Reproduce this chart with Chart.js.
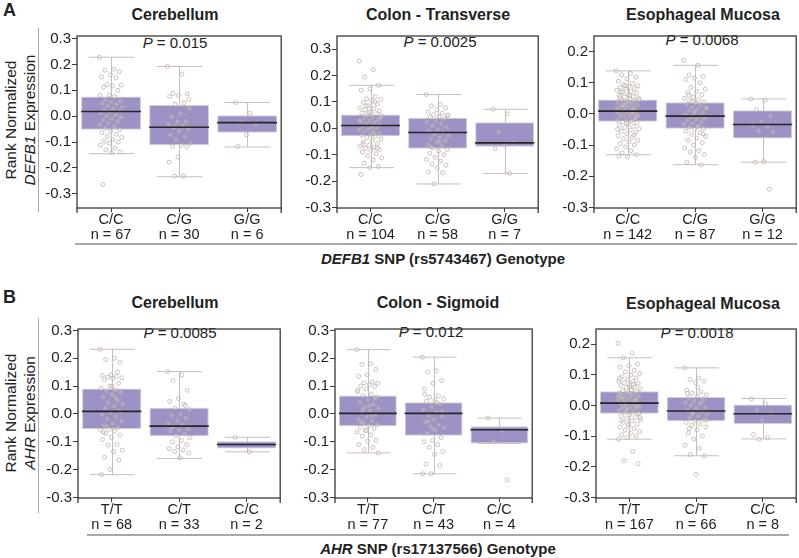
<!DOCTYPE html>
<html>
<head>
<meta charset="utf-8">
<script src="https://cdn.jsdelivr.net/npm/chart.js@4.4.0/dist/chart.umd.min.js"></script>
<style>
body { margin: 0; background: #fff; }
#fig { position: relative; width: 799px; height: 558px; font-family: "Liberation Sans", Arial, sans-serif; color: #222; overflow: hidden; background: #fff; }
.t { position: absolute; transform: translate(-50%, -50%); white-space: nowrap; }
.title { font-weight: bold; font-size: 16px; }
.pval { font-size: 15px; }
.ylab { font-size: 15.5px; transform: translate(-50%, -50%) rotate(-90deg); }
.xlab { font-weight: bold; font-size: 15px; }
.letter { position: absolute; font-weight: bold; font-size: 18px; }
.rule { position: absolute; background: #a8a8a8; }
canvas { position: absolute; }
</style>
</head>
<body>
<div id="fig">
  <div class="letter" style="left:3px;top:0px;">A</div>
  <div class="letter" style="left:3px;top:287px;">B</div>

  <div class="t title" style="left:175px;top:15px;">Cerebellum</div>
  <div class="t title" style="left:438px;top:15px;">Colon - Transverse</div>
  <div class="t title" style="left:703px;top:15px;">Esophageal Mucosa</div>
  <div class="t title" style="left:175px;top:303px;">Cerebellum</div>
  <div class="t title" style="left:438px;top:303px;">Colon - Sigmoid</div>
  <div class="t title" style="left:703px;top:304px;">Esophageal Mucosa</div>

  <div class="t pval" style="left:175px;top:42px;"><i>P</i> = 0.015</div>
  <div class="t pval" style="left:440px;top:41px;"><i>P</i> = 0.0025</div>
  <div class="t pval" style="left:702px;top:39px;"><i>P</i> = 0.0068</div>
  <div class="t pval" style="left:180px;top:332px;"><i>P</i> = 0.0085</div>
  <div class="t pval" style="left:431px;top:331px;"><i>P</i> = 0.012</div>
  <div class="t pval" style="left:697px;top:332px;"><i>P</i> = 0.0018</div>

  <div class="t ylab" style="left:11px;top:120px;">Rank Normalized</div>
  <div class="t ylab" style="left:30px;top:120px;"><i>DEFB1</i> Expression</div>
  <div class="t ylab" style="left:11px;top:413px;">Rank Normalized</div>
  <div class="t ylab" style="left:30px;top:413px;"><i>AHR</i> Expression</div>

  <div class="rule" style="left:38px;top:28px;width:1px;height:184px;"></div>
  <div class="rule" style="left:38px;top:318px;width:1px;height:195px;"></div>
  <div class="rule" style="left:75px;top:243px;width:722px;height:2px;"></div>
  <div class="rule" style="left:87px;top:534px;width:702px;height:2px;"></div>

  <div class="t xlab" style="left:443px;top:258px;"><i>DEFB1</i> SNP (rs5743467) Genotype</div>
  <div class="t xlab" style="left:438px;top:548px;"><i>AHR</i> SNP (rs17137566) Genotype</div>
</div>

<script>
// genotypes and group sizes
const genoA = ['C/C', 'C/G', 'G/G'];
const genoB = ['T/T', 'C/T', 'C/C'];
const nA1 = [67, 30, 6];
const nA2 = [104, 58, 7];
const nA3 = [142, 87, 12];
const nB1 = [68, 33, 2];
const nB2 = [77, 43, 4];
const nB3 = [167, 66, 8];

// y tick labels
const ticks6 = [-0.3, -0.2, -0.1, 0.0, 0.1, 0.2, 0.3];
const ticks5 = [-0.3, -0.2, -0.1, 0.0, 0.1, 0.2];

// box stats: whisker low, q1, median, q3, whisker high
const a1Lo = [-0.145, -0.234, -0.119], a1Q1 = [-0.052, -0.112, -0.064], a1Med = [0.018, -0.043, -0.025], a1Q3 = [0.076, 0.043, 0.004], a1Hi = [0.228, 0.192, 0.053];
const a2Lo = [-0.149, -0.211, -0.171], a2Q1 = [-0.030, -0.077, -0.070], a2Med = [0.011, -0.016, -0.055], a2Q3 = [0.052, 0.040, 0.023], a2Hi = [0.163, 0.128, 0.072];
const a3Lo = [-0.131, -0.163, -0.155], a3Q1 = [-0.025, -0.048, -0.079], a3Med = [0.009, -0.007, -0.034], a3Q3 = [0.046, 0.037, 0.012], a3Hi = [0.138, 0.156, 0.048];
const b1Lo = [-0.218, -0.160, -0.136], b1Q1 = [-0.054, -0.080, -0.124], b1Med = [0.009, -0.044, -0.110], b1Q3 = [0.091, 0.022, -0.098], b1Hi = [0.232, 0.152, -0.084];
const b2Lo = [-0.140, -0.215, -0.106], b2Q1 = [-0.044, -0.078, -0.106], b2Med = [0.002, 0.002, -0.057], b2Q3 = [0.066, 0.042, -0.044], b2Hi = [0.231, 0.204, -0.015];
const b3Lo = [-0.110, -0.164, -0.109], b3Q1 = [-0.027, -0.051, -0.060], b3Med = [0.008, -0.018, -0.027], b3Q3 = [0.047, 0.028, 0.003], b3Hi = [0.156, 0.123, 0.023];

// individual samples (approximate)
const a1Pts = [
  [0.228, 0.182, 0.178, 0.172, 0.160, 0.152, 0.148, 0.122, 0.120, 0.117, 0.112, 0.100, 0.082, 0.080, 0.076, 0.062, 0.058, 0.055, 0.050, 0.046, 0.040, 0.034, 0.030, 0.024, 0.020, 0.015, 0.010, 0.005, 0.000, -0.004, -0.010, -0.015, -0.020, -0.026, -0.032, -0.040, -0.046, -0.052, -0.058, -0.064, -0.070, -0.078, -0.082, -0.090, -0.096, -0.100, -0.104, -0.112, -0.124, -0.130, -0.138, -0.142, -0.264],
  [0.192, 0.162, 0.088, 0.086, 0.080, 0.076, 0.052, 0.046, 0.030, 0.010, -0.002, -0.020, -0.022, -0.030, -0.036, -0.044, -0.050, -0.058, -0.072, -0.080, -0.090, -0.104, -0.112, -0.116, -0.118, -0.158, -0.178, -0.232, -0.232, 0.064],
  [0.053, 0.012, -0.022, -0.032, -0.072, -0.117]
];
const a2Pts = [
  [0.255, 0.222, 0.195, 0.163, 0.150, 0.145, 0.120, 0.112, 0.110, 0.105, 0.098, 0.092, 0.085, 0.078, 0.075, 0.070, 0.066, 0.062, 0.058, 0.055, 0.050, 0.046, 0.042, 0.038, 0.034, 0.030, 0.026, 0.022, 0.018, 0.014, 0.010, 0.006, 0.002, -0.002, -0.006, -0.010, -0.014, -0.018, -0.022, -0.026, -0.030, -0.035, -0.040, -0.046, -0.052, -0.058, -0.064, -0.068, -0.072, -0.076, -0.080, -0.084, -0.090, -0.096, -0.104, -0.112, -0.120, -0.132, -0.145, -0.149, -0.175, 0.100, 0.085, 0.040, 0.005, -0.060, -0.075, 0.060, 0.030, -0.020],
  [0.128, 0.090, 0.085, 0.078, 0.070, 0.062, 0.058, 0.052, 0.048, 0.045, 0.042, 0.036, 0.030, 0.024, 0.018, 0.010, 0.004, -0.004, -0.010, -0.016, -0.022, -0.028, -0.034, -0.040, -0.046, -0.052, -0.060, -0.066, -0.074, -0.080, -0.086, -0.094, -0.100, -0.110, -0.118, -0.125, -0.135, -0.140, -0.150, -0.165, -0.168, -0.211, 0.050, -0.050, -0.070],
  [0.072, 0.055, -0.012, -0.055, -0.062, -0.077, -0.171]
];
const a3Pts = [
  [0.138, 0.130, 0.125, 0.118, 0.112, 0.105, 0.098, 0.094, 0.090, 0.088, 0.085, 0.082, 0.080, 0.076, 0.072, 0.070, 0.066, 0.062, 0.060, 0.056, 0.054, 0.050, 0.048, 0.045, 0.042, 0.040, 0.036, 0.034, 0.030, 0.028, 0.025, 0.022, 0.020, 0.018, 0.015, 0.012, 0.010, 0.008, 0.005, 0.002, 0.000, -0.002, -0.005, -0.008, -0.010, -0.013, -0.016, -0.020, -0.022, -0.025, -0.028, -0.032, -0.036, -0.040, -0.044, -0.048, -0.052, -0.056, -0.060, -0.064, -0.070, -0.075, -0.080, -0.085, -0.090, -0.096, -0.100, -0.106, -0.112, -0.118, -0.125, -0.131, -0.138, -0.135, 0.015, 0.030, 0.045, 0.060, 0.070, -0.015, -0.030, -0.050, 0.005, 0.025, -0.005, 0.038, 0.052, -0.068, 0.090, 0.008],
  [0.172, 0.156, 0.125, 0.120, 0.115, 0.110, 0.100, 0.085, 0.080, 0.072, 0.068, 0.062, 0.055, 0.050, 0.046, 0.042, 0.038, 0.035, 0.030, 0.026, 0.022, 0.018, 0.014, 0.010, 0.006, 0.002, -0.002, -0.006, -0.010, -0.014, -0.018, -0.022, -0.026, -0.030, -0.034, -0.038, -0.042, -0.046, -0.050, -0.055, -0.060, -0.066, -0.072, -0.078, -0.085, -0.092, -0.100, -0.110, -0.118, -0.122, -0.130, -0.140, -0.155, -0.163, 0.040, 0.020, -0.040, 0.060, -0.064, 0.008],
  [0.048, 0.045, 0.014, -0.008, -0.025, -0.035, -0.042, -0.055, -0.058, -0.153, -0.155, -0.242]
];
const b1Pts = [
  [0.232, 0.200, 0.195, 0.185, 0.140, 0.138, 0.135, 0.132, 0.130, 0.128, 0.122, 0.110, 0.100, 0.092, 0.085, 0.082, 0.078, 0.070, 0.060, 0.050, 0.040, 0.035, 0.028, 0.020, 0.012, 0.005, -0.002, -0.010, -0.018, -0.026, -0.034, -0.040, -0.048, -0.055, -0.058, -0.062, -0.070, -0.076, -0.085, -0.092, -0.110, -0.112, -0.130, -0.135, -0.155, -0.165, -0.200, -0.218, 0.060, -0.045, 0.008, 0.100, -0.065, 0.150],
  [0.152, 0.140, 0.120, 0.085, 0.055, 0.045, 0.035, 0.020, 0.015, 0.000, -0.005, -0.015, -0.025, -0.035, -0.040, -0.045, -0.055, -0.058, -0.062, -0.070, -0.078, -0.085, -0.095, -0.100, -0.110, -0.118, -0.125, -0.130, -0.135, -0.140, -0.158, -0.050, 0.030],
  [-0.084, -0.136]
];
const b2Pts = [
  [0.231, 0.180, 0.178, 0.160, 0.140, 0.135, 0.115, 0.112, 0.110, 0.105, 0.100, 0.098, 0.090, 0.080, 0.070, 0.065, 0.060, 0.050, 0.042, 0.035, 0.025, 0.020, 0.012, 0.005, -0.002, -0.010, -0.018, -0.025, -0.032, -0.038, -0.042, -0.048, -0.052, -0.058, -0.065, -0.075, -0.080, -0.095, -0.098, -0.110, -0.120, -0.128, -0.140, 0.030, -0.030, 0.055, -0.060, 0.085, -0.005, 0.015],
  [0.204, 0.155, 0.150, 0.120, 0.110, 0.090, 0.065, 0.060, 0.055, 0.050, 0.045, 0.035, 0.025, 0.015, 0.005, -0.005, -0.010, -0.020, -0.030, -0.040, -0.045, -0.050, -0.060, -0.070, -0.085, -0.095, -0.100, -0.110, -0.120, -0.135, -0.145, -0.180, -0.185, -0.215, -0.215, 0.040, -0.025, 0.010, -0.055, 0.070],
  [-0.015, -0.060, -0.100, -0.237]
];
const b3Pts = [
  [0.203, 0.170, 0.156, 0.135, 0.130, 0.125, 0.115, 0.110, 0.105, 0.100, 0.095, 0.090, 0.085, 0.080, 0.078, 0.075, 0.072, 0.068, 0.065, 0.062, 0.058, 0.055, 0.052, 0.048, 0.045, 0.042, 0.040, 0.036, 0.034, 0.030, 0.028, 0.025, 0.022, 0.020, 0.018, 0.015, 0.012, 0.010, 0.008, 0.005, 0.002, 0.000, -0.002, -0.005, -0.008, -0.010, -0.013, -0.016, -0.020, -0.023, -0.026, -0.030, -0.034, -0.038, -0.042, -0.046, -0.050, -0.055, -0.060, -0.065, -0.070, -0.075, -0.080, -0.085, -0.090, -0.095, -0.100, -0.105, -0.110, -0.150, -0.180, -0.190, 0.060, 0.035, 0.015, -0.015, -0.040, 0.050, 0.025, -0.003, -0.060, 0.088, 0.070, 0.005, -0.025, 0.040, -0.050, 0.020, -0.008, 0.030],
  [0.123, 0.090, 0.085, 0.080, 0.075, 0.050, 0.045, 0.040, 0.035, 0.030, 0.025, 0.020, 0.015, 0.010, 0.005, 0.000, -0.005, -0.010, -0.015, -0.020, -0.025, -0.030, -0.035, -0.040, -0.045, -0.050, -0.055, -0.060, -0.065, -0.070, -0.080, -0.090, -0.100, -0.110, -0.130, -0.140, -0.160, -0.164, -0.225, 0.040, 0.010, -0.028, -0.048, 0.060, -0.075],
  [0.022, 0.005, -0.015, -0.028, -0.050, -0.095, -0.105, -0.110]
];

// panel layout (frame edges in page pixels) + which arrays to use
const panels = [
  { L: 77, R: 282, T: 29, B: 208, ymin: -0.355, ymax: 0.31, yt: ticks6, geno: genoA, n: nA1, lo: a1Lo, q1: a1Q1, med: a1Med, q3: a1Q3, hi: a1Hi, pts: a1Pts },
  { L: 337, R: 539, T: 29, B: 208, ymin: -0.302, ymax: 0.35, yt: ticks6, geno: genoA, n: nA2, lo: a2Lo, q1: a2Q1, med: a2Med, q3: a2Q3, hi: a2Hi, pts: a2Pts },
  { L: 594, R: 797, T: 29, B: 208, ymin: -0.302, ymax: 0.25, yt: ticks5, geno: genoA, n: nA3, lo: a3Lo, q1: a3Q1, med: a3Med, q3: a3Q3, hi: a3Hi, pts: a3Pts },
  { L: 78, R: 281, T: 322, B: 498, ymin: -0.302, ymax: 0.305, yt: ticks6, geno: genoB, n: nB1, lo: b1Lo, q1: b1Q1, med: b1Med, q3: b1Q3, hi: b1Hi, pts: b1Pts },
  { L: 335, R: 533, T: 322, B: 498, ymin: -0.302, ymax: 0.305, yt: ticks6, geno: genoB, n: nB2, lo: b2Lo, q1: b2Q1, med: b2Med, q3: b2Q3, hi: b2Hi, pts: b2Pts },
  { L: 596, R: 797, T: 322, B: 498, ymin: -0.302, ymax: 0.25, yt: ticks5, geno: genoB, n: nB3, lo: b3Lo, q1: b3Q1, med: b3Med, q3: b3Q3, hi: b3Hi, pts: b3Pts }
];

const FONT = '"Liberation Sans", Arial, sans-serif';
const PAD_L = 45, PAD_T = 3, PAD_R = 4, PAD_B = 38;

// whiskers behind, medians and frame on top
function boxParts(p) {
  return {
    id: 'boxParts',
    beforeDatasetsDraw(chart) {
      const ctx = chart.ctx, xs = chart.scales.x, ys = chart.scales.y;
      const bars = chart.getDatasetMeta(1).data;
      ctx.save();
      ctx.strokeStyle = '#cbbdb9';
      ctx.lineWidth = 1;
      p.lo.forEach((lo, i) => {
        const x = Math.round(xs.getPixelForValue(i)) + 0.5;
        const cap = bars[i].width * 0.38;
        const yl = ys.getPixelForValue(lo), yh = ys.getPixelForValue(p.hi[i]);
        ctx.beginPath();
        ctx.moveTo(x, yl); ctx.lineTo(x, yh);
        ctx.moveTo(x - cap, yl); ctx.lineTo(x + cap, yl);
        ctx.moveTo(x - cap, yh); ctx.lineTo(x + cap, yh);
        ctx.stroke();
      });
      ctx.restore();
    },
    afterDatasetsDraw(chart) {
      const ctx = chart.ctx, xs = chart.scales.x, ys = chart.scales.y, a = chart.chartArea;
      const bars = chart.getDatasetMeta(1).data;
      ctx.save();
      ctx.strokeStyle = '#262626';
      ctx.lineWidth = 1.6;
      p.med.forEach((m, i) => {
        const x = xs.getPixelForValue(i), w = bars[i].width / 2;
        const y = ys.getPixelForValue(m);
        ctx.beginPath();
        ctx.moveTo(x - w, y); ctx.lineTo(x + w, y);
        ctx.stroke();
      });
      ctx.strokeStyle = '#3a3a3a';
      ctx.lineWidth = 1.3;
      ctx.strokeRect(a.left, a.top, a.right - a.left, a.bottom - a.top);
      ctx.beginPath();
      ctx.moveTo(a.left, a.bottom); ctx.lineTo(a.left, a.bottom + 5);
      ctx.moveTo(a.right, a.bottom); ctx.lineTo(a.right, a.bottom + 5);
      ctx.stroke();
      ctx.restore();
    }
  };
}

const fig = document.getElementById('fig');

panels.forEach(p => {
  const cv = document.createElement('canvas');
  const w = p.R - p.L + PAD_L + PAD_R, h = p.B - p.T + PAD_T + PAD_B;
  cv.width = w; cv.height = h;
  cv.style.left = (p.L - PAD_L) + 'px';
  cv.style.top = (p.T - PAD_T) + 'px';
  cv.style.width = w + 'px'; cv.style.height = h + 'px';
  fig.appendChild(cv);

  // jittered sample points, spread sideways around each category centre
  const pts = [];
  p.pts.forEach((vals, g) => {
    vals.forEach((v, j) => {
      pts.push({ x: g + ((j * 0.6180339) % 1 - 0.5) * 0.34, y: v });
    });
  });

  new Chart(cv, {
    type: 'bar',
    data: {
      labels: p.geno.map((g, i) => [g, 'n = ' + p.n[i]]),
      datasets: [
        {
          type: 'scatter',
          data: pts,
          xAxisID: 'xj',
          order: 0,
          pointRadius: 2,
          pointBorderWidth: 0.8,
          pointBorderColor: 'rgba(180,166,160,0.85)',
          pointBackgroundColor: 'rgba(255,255,255,0.2)'
        },
        {
          type: 'bar',
          data: p.q1.map((v, i) => [v, p.q3[i]]),
          order: 1,
          grouped: false,
          backgroundColor: '#9d91c5',
          borderColor: '#d8ced3',
          borderWidth: 1,
          borderSkipped: false,
          barPercentage: 0.88,
          categoryPercentage: 1
        }
      ]
    },
    options: {
      responsive: false,
      devicePixelRatio: 1,
      animation: false,
      events: [],
      layout: { padding: { left: 0, top: PAD_T, right: PAD_R, bottom: 0 } },
      plugins: { legend: { display: false }, tooltip: { enabled: false } },
      scales: {
        x: {
          type: 'category',
          offset: true,
          grid: { offset: false, drawOnChartArea: false, tickLength: 4, color: '#3a3a3a' },
          border: { display: false },
          ticks: { font: { family: FONT, size: 14.5, lineHeight: 1.0 }, color: '#222', padding: 1, maxRotation: 0, autoSkip: false },
          afterFit: s => { s.height = PAD_B; }
        },
        // hidden helper axis so the jittered points can sit between category centres
        xj: { type: 'linear', display: false, offset: false, min: -0.5, max: 2.5 },
        y: {
          min: p.ymin,
          max: p.ymax,
          grid: { drawOnChartArea: false, tickLength: 5, color: '#3a3a3a' },
          border: { display: false },
          ticks: {
            font: { family: FONT, size: 15 },
            color: '#222',
            padding: 1,
            callback: v => (Math.round(v * 10) / 10).toFixed(1)
          },
          afterBuildTicks: s => { s.ticks = p.yt.map(v => ({ value: v })); },
          afterFit: s => { s.width = PAD_L; }
        }
      }
    },
    plugins: [boxParts(p)]
  });
});
</script>
</body>
</html>
